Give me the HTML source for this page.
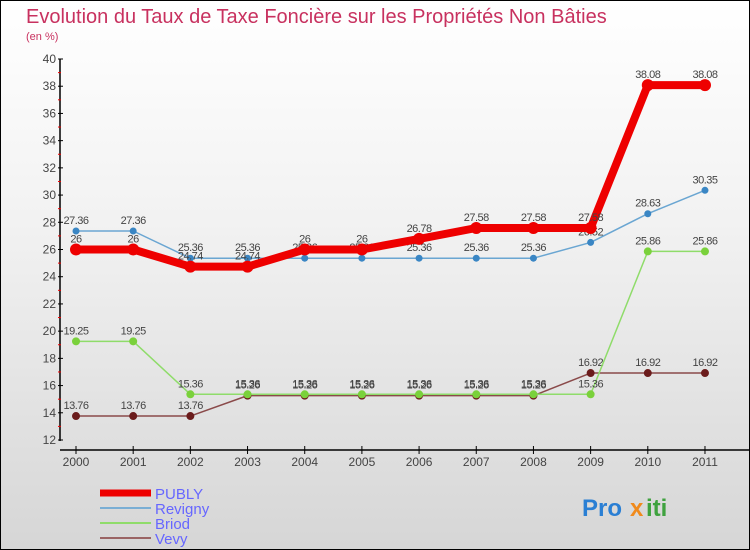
<!DOCTYPE html>
<html><head><meta charset="utf-8"><style>
html,body{margin:0;padding:0}
body{width:750px;height:550px;overflow:hidden;font-family:"Liberation Sans",sans-serif}
#wrap{position:absolute;left:0;top:0;width:748px;height:548px;border:1px solid #000;background:linear-gradient(#fff 0%,#f2f2f2 40%,#d6d6d6 100%)}
</style></head><body>
<div id="wrap">
<svg id="chart" width="750" height="550" style="position:absolute;left:-1px;top:-1px">
<text x="26" y="23" font-size="20" fill="#c8315f">Evolution du Taux de Taxe Foncière sur les Propriétés Non Bâties</text>
<text x="26" y="40" font-size="11" fill="#c8315f">(en %)</text>
<g id="axes"></g><g id="series"></g><g id="legend"></g>
<g font-size="24" font-weight="bold">
<text x="582" y="516" fill="#2a7fd4">Pro</text><text x="630" y="516" fill="#f08a1c">x</text><text x="646" y="516" fill="#3fa23f">iti</text>
</g>
</svg>
</div>
<script>
const years=["2000","2001","2002","2003","2004","2005","2006","2007","2008","2009","2010","2011"];
const yTicks=[12,14,16,18,20,22,24,26,28,30,32,34,36,38,40];
const publy=[26,26,24.74,24.74,26,26,26.78,27.58,27.58,27.58,38.08,38.08];
const revigny=[27.36,27.36,25.36,25.36,25.36,25.36,25.36,25.36,25.36,26.52,28.63,30.35];
const briod=[19.25,19.25,15.36,15.36,15.36,15.36,15.36,15.36,15.36,15.36,25.86,25.86];
const vevy=[13.76,13.76,13.76,15.26,15.26,15.26,15.26,15.26,15.26,16.92,16.92,16.92];
const NS="http://www.w3.org/2000/svg";
const X=i=>76+i*57.18, Y=v=>440-(v-12)*13.607;
function mk(tag,at,parent){const e=document.createElementNS(NS,tag);for(const k in at)e.setAttribute(k,at[k]);parent.appendChild(e);return e;}
const ax=document.getElementById('axes');
let yl=mk('line',{x1:60,y1:59,x2:60,y2:441,stroke:'#000','stroke-width':1.5},ax);


yTicks.forEach(t=>{
 mk('line',{x1:58,x2:63,y1:Y(t),y2:Y(t),stroke:'#000'},ax);
 if(t<40) mk('line',{x1:58,x2:61,y1:Y(t+1),y2:Y(t+1),stroke:'#e00'},ax);
 const tx=mk('text',{x:56,y:Y(t)+4,'text-anchor':'end','font-size':12,fill:'#444'},ax);
 tx.textContent=t;
 
 
});
let xl=mk('line',{x1:60,y1:450,x2:750,y2:450,stroke:'#000','stroke-width':1.5},ax);


years.forEach((y,i)=>{
 mk('line',{x1:X(i),x2:X(i),y1:446,y2:454,stroke:'#000'},ax);
 const tx=mk('text',{x:X(i),y:466,'text-anchor':'middle','font-size':12,fill:'#444'},ax);
 tx.textContent=y;
 
 
});
const sg=document.getElementById('series');
const series=[
 {name:'vevy',data:vevy,color:'#6b1c1c',line:'#8a4a4a',w:1.5,r:4},
 {name:'briod',data:briod,color:'#7ad13b',line:'#8fdc6a',w:1.5,r:4},
 {name:'revigny',data:revigny,color:'#3a86c4',line:'#6aa6d2',w:1.5,r:3.5},
 {name:'publy',data:publy,color:'#ee0000',line:'#ee0000',w:8,r:6}
];
series.forEach(s=>{
 const g=mk('g',{},sg);
 
 
 const pl=mk('polyline',{points:s.data.map((v,i)=>X(i)+','+Y(v)).join(' '),fill:'none',stroke:s.line,'stroke-width':s.w,'stroke-linejoin':'round'},g);
 
 
 s.data.forEach((v,i)=>{
  const c=mk('circle',{cx:X(i),cy:Y(v),r:s.r,fill:s.color},g);
  
  
  const t=mk('text',{x:X(i),y:Y(v)-7,'text-anchor':'middle','font-size':11,fill:'#444','letter-spacing':'-0.5'},g);
  t.textContent=v;
  
  
 });
});
const lg=document.getElementById('legend');
const leg=[['PUBLY','#ee0000',7],['Revigny','#7aaed4',2],['Briod','#8fdc6a',2],['Vevy','#9a6464',2]];
leg.forEach((l,i)=>{
 const y=493+i*15;
 const ln=mk('line',{x1:100,x2:151,y1:y,y2:y,stroke:l[1],'stroke-width':l[2]},lg);
 
 
 const t=mk('text',{x:155,y:y+6,'font-size':15,fill:'#6666ff'},lg);
 t.textContent=l[0];
 
 
});
</script>
</body></html>
